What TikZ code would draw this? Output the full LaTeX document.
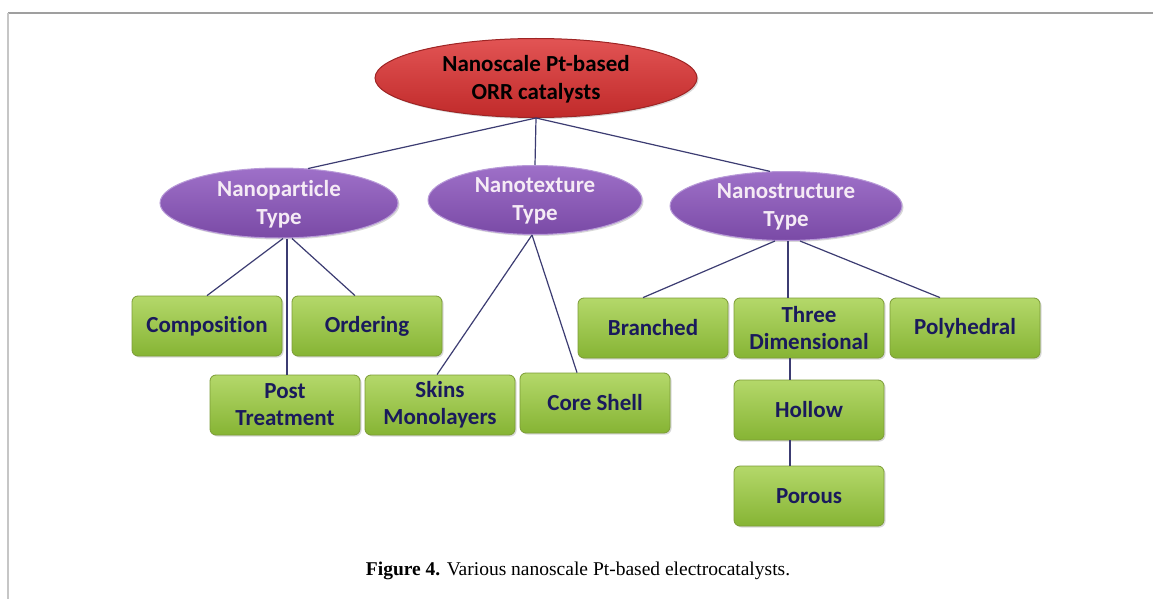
\documentclass[tikz,border=0pt]{standalone}
\usepackage{fontspec}
\setmainfont{Liberation Serif}
\newfontfamily\diagfont[Ligatures={NoCommon}]{Carlito}
\usetikzlibrary{shapes.geometric,shadows,calc}
\definecolor{grtop}{HTML}{B4D86A}
\definecolor{grbot}{HTML}{86B434}
\definecolor{grdraw}{HTML}{7C9C36}
\definecolor{navytxt}{HTML}{1A1A5C}
\definecolor{ptop}{HTML}{9E70C8}
\definecolor{pbot}{HTML}{7A4AA6}
\definecolor{pdraw}{HTML}{B89AD8}
\definecolor{rtop}{HTML}{E25454}
\definecolor{rbot}{HTML}{C02A2A}
\definecolor{rdraw}{HTML}{9E2424}
\definecolor{linecol}{HTML}{3C3C72}
\begin{document}
\begin{tikzpicture}[x=1pt,y=-1pt,
  gbox/.style={rectangle, rounded corners=6pt, minimum width=150pt, minimum height=60pt,
    top color=grtop, bottom color=grbot, draw=grdraw, line width=0.8pt,
    drop shadow={shadow xshift=1.5pt, shadow yshift=-1.5pt, opacity=0.3},
    font=\diagfont\bfseries\fontsize{23pt}{27pt}\selectfont, text=navytxt, align=center, inner sep=2pt},
  pell/.style={ellipse, inner sep=0pt, top color=ptop, bottom color=pbot, draw=pdraw, line width=1pt,
    drop shadow={shadow xshift=1.5pt, shadow yshift=-1.5pt, opacity=0.3}},
  rell/.style={ellipse, inner sep=0pt, minimum width=322pt, minimum height=79pt,
    top color=rtop, bottom color=rbot, draw=rdraw, line width=1pt,
    drop shadow={shadow xshift=1.5pt, shadow yshift=-1.5pt, opacity=0.3}},
  ptext/.style={font=\diagfont\bfseries\fontsize{23pt}{28pt}\selectfont, text=white!92!violet, align=center, inner sep=0pt},
  rtext/.style={font=\diagfont\bfseries\fontsize{23pt}{28pt}\selectfont, text=black, align=center, inner sep=0pt},
  conn/.style={draw=linecol, line width=1.2pt}
]
\useasboundingbox (0,0) rectangle (1153,599);
\fill[white] (0,0) rectangle (1153,599);
\draw[gray!75, line width=1.2pt] (8,13) -- (1153,13);
\draw[gray!45, line width=1.5pt] (8,13) -- (8,599);

\node[rell] (root) at (536,78) {};
\node[pell, minimum width=238pt, minimum height=70pt] (np) at (279,203) {};
\node[pell, minimum width=214pt, minimum height=69pt] (nt) at (535,200) {};
\node[pell, minimum width=232pt, minimum height=69pt] (ns) at (786,206) {};

\node[gbox] (comp) at (207,326) {Composition};
\node[gbox] (ord) at (367,326) {Ordering};
\node[gbox] (post) at (285,405) {Post\\Treatment};
\node[gbox] (skin) at (440,405) {Skins\\Monolayers};
\node[gbox] (core) at (595,403) {Core Shell};
\node[gbox] (bran) at (653,328) {Branched};
\node[gbox] (three) at (809,328) {Three\\Dimensional};
\node[gbox] (poly) at (965,328) {Polyhedral};
\node[gbox] (hol) at (809,410) {Hollow};
\node[gbox] (por) at (809,496) {Porous};

\draw[conn] (root.south) -- (np.50);
\draw[conn] (root.south) -- (nt.north);
\draw[conn] (root.south) -- (ns.115);
\draw[conn] ([xshift=4pt]np.south) -- (comp.north);
\draw[conn] ([xshift=13pt]np.south) -- ([xshift=-12pt]ord.north);
\draw[conn] ([xshift=8pt]np.south) -- ([xshift=2pt]post.north);
\draw[conn] ([xshift=-3pt]nt.south) -- ([xshift=-3pt]skin.north);
\draw[conn] ([xshift=-3pt]nt.south) -- ([xshift=-18pt]core.north);
\draw[conn] ([xshift=-11pt]ns.south) -- ([xshift=-10pt]bran.north);
\draw[conn] ([xshift=2pt]ns.south) -- ([xshift=-21pt]three.north);
\draw[conn] ([xshift=14pt]ns.south) -- ([xshift=-25pt]poly.north);
\draw[conn] ([xshift=-19pt]three.south) -- ([xshift=-19pt]hol.north);
\draw[conn] ([xshift=-19pt]hol.south) -- ([xshift=-19pt]por.north);

\node[rtext] (roott) at (536,79) {Nanoscale Pt-based\\ORR catalysts};
\node[ptext] (npt) at (279,204) {Nanoparticle\\Type};
\node[ptext] (ntt) at (535,201) {Nanotexture\\Type};
\node[ptext] (nst) at (786,207) {Nanostructure\\Type};

\node[font=\fontsize{19.5pt}{22pt}\selectfont, inner sep=0pt] (cap) at (578,571) {\textbf{Figure 4.} Various nanoscale Pt-based electrocatalysts.};
\end{tikzpicture}
\end{document}
